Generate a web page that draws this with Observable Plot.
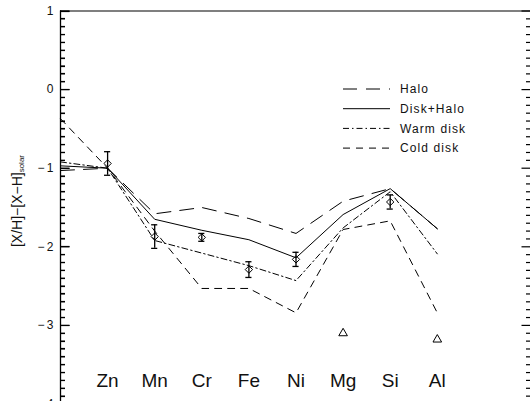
<!DOCTYPE html>
<html>
<head>
<meta charset="utf-8">
<script src="https://cdn.jsdelivr.net/npm/d3@7"></script>
<script src="https://cdn.jsdelivr.net/npm/@observablehq/plot@0.6"></script>
<style>
  html, body { margin: 0; padding: 0; background: #fff; }
  #chart { width: 530px; height: 401px; overflow: hidden; }
  svg { font-family: "Liberation Sans", Arial, sans-serif; }
</style>
</head>
<body>
<div id="chart"></div>
<script>
// ---- data ----
// position 0 is the left frame edge where the model curves begin
const positions = [0, 1, 2, 3, 4, 5, 6, 7, 8];
const elements = ["", "Zn", "Mn", "Cr", "Fe", "Ni", "Mg", "Si", "Al"];
const halo      = [-1.03, -1.00, -1.58, -1.50, -1.64, -1.83, -1.42, -1.26, -1.77];
const diskHalo  = [-0.97, -1.00, -1.65, -1.79, -1.91, -2.14, -1.59, -1.26, -1.77];
const warmDisk  = [-0.92, -1.00, -1.92, -2.08, -2.24, -2.43, -1.76, -1.30, -2.09];
const coldDisk  = [-0.37, -1.00, -1.80, -2.53, -2.53, -2.84, -1.78, -1.67, -2.84];

const seriesNames = ["Halo", "Disk+Halo", "Warm disk", "Cold disk"];
const seriesDash  = ["14,9", null, "6,3,1.5,3", "7,6"];

const obsPos    = [1, 2, 3, 4, 5, 7];
const obsValue  = [-0.94, -1.87, -1.88, -2.29, -2.16, -1.43];
const obsError  = [0.15, 0.15, 0.05, 0.10, 0.09, 0.09];

const limitPos   = [6, 8];
const limitValue = [-3.10, -3.18];

const majorTicks = [-4, -3, -2, -1, 0, 1];
const minorTicks = d3.range(-40, 11).map(d => d / 10).filter(d => !Number.isInteger(d));

// ---- tables ----
const seriesValues = [halo, diskHalo, warmDisk, coldDisk];
const curves = seriesNames.map((name, i) =>
  positions.map((p, j) => ({series: name, x: p, y: seriesValues[i][j]})));
const obs = obsPos.map((p, i) => ({x: p, y: obsValue[i], e: obsError[i]}));
const limits = limitPos.map((p, i) => ({x: p, y: limitValue[i]}));
const labels = positions.slice(1).map(p => ({x: p, name: elements[p]}));

const fmt = d => d < 0 ? "\u2212\u2009" + Math.abs(d) : String(d);
const noLabel = () => "";
const capHalf = 0.065;
const xLeft = 0, xRight = 10;

const marks = [
  // frame
  Plot.ruleY([1], {stroke: "#000", strokeWidth: 1.2}),
  Plot.ruleX([xLeft, xRight], {stroke: "#000", strokeWidth: 1.3}),
  // y axis: labels on the left, inward ticks on both sides
  Plot.axisY({ticks: majorTicks, tickSize: 0, tickPadding: 7, tickFormat: fmt,
    fontSize: 12, label: null, anchor: "left", fill: "#111"}),
  Plot.axisY({ticks: majorTicks, anchor: "left", tickSize: -9.5, tickFormat: noLabel, label: null, stroke: "#000", strokeWidth: 1.2}),
  Plot.axisY({ticks: minorTicks, anchor: "left", tickSize: -5, tickFormat: noLabel, label: null, stroke: "#000", strokeWidth: 1.2}),
  Plot.axisY({ticks: majorTicks, anchor: "right", tickSize: -9.5, tickFormat: noLabel, label: null, stroke: "#000", strokeWidth: 1.2}),
  Plot.axisY({ticks: minorTicks, anchor: "right", tickSize: -5, tickFormat: noLabel, label: null, stroke: "#000", strokeWidth: 1.2}),
  // model curves
  ...curves.map((c, i) => Plot.line(c, {x: "x", y: "y", stroke: "#000", strokeWidth: 1,
    strokeDasharray: seriesDash[i] ?? undefined})),
  // observations
  Plot.ruleX(obs, {x: "x", y1: d => d.y - d.e, y2: d => d.y + d.e, stroke: "#000", strokeWidth: 1.3}),
  Plot.ruleY(obs, {y: d => d.y - d.e, x1: d => d.x - capHalf, x2: d => d.x + capHalf, stroke: "#000", strokeWidth: 1.3}),
  Plot.ruleY(obs, {y: d => d.y + d.e, x1: d => d.x - capHalf, x2: d => d.x + capHalf, stroke: "#000", strokeWidth: 1.3}),
  Plot.dot(obs, {x: "x", y: "y", symbol: "diamond2", r: 3.3, stroke: "#000", fill: "none", strokeWidth: 1}),
  Plot.dot(limits, {x: "x", y: "y", symbol: "triangle", r: 3.2, stroke: "#000", fill: "none", strokeWidth: 1}),
  // element names
  Plot.text(labels, {x: "x", y: () => -3.71, text: "name", fontSize: 19, fill: "#111", textAnchor: "middle"})
];

const plot = Plot.plot({
  width: 530,
  height: 401,
  marginLeft: 60,
  marginTop: 10.5,
  marginRight: 0,
  marginBottom: 0,
  style: {fontFamily: "Liberation Sans, Arial, sans-serif", background: "#fff", overflow: "hidden"},
  x: {domain: [0, 10], range: [60, 531], axis: null},
  y: {domain: [-4, 1], range: [403.5, 10.5], axis: null},
  marks
});

const svg = d3.select(plot);
const ys = plot.scale("y");
const xs = plot.scale("x");

// extra inward ticks on the left edge, placed through Plot's own scales
const tg = svg.append("g").attr("stroke", "#000").attr("stroke-width", 1.2);
const x0 = xs.apply(xLeft);
[[majorTicks, 9.5], [minorTicks, 5]].forEach(([ticks, len]) => {
  ticks.forEach(t => {
    const y = Math.round(ys.apply(t)) + 0.5;
    tg.append("line").attr("x1", x0).attr("x2", x0 + len).attr("y1", y).attr("y2", y);
  });
});

// y-axis title with subscript
const yl = svg.append("text")
  .attr("transform", "translate(22,201) rotate(-90)")
  .attr("text-anchor", "middle")
  .attr("font-size", 14)
  .attr("fill", "#111");
yl.append("tspan").text("[X/H]\u2212[X\u2212H]");
yl.append("tspan").attr("font-size", 8).attr("dy", 2).text("solar");

// legend
const lg = svg.append("g").attr("font-size", 12).attr("fill", "#111").attr("text-anchor", "start");
seriesNames.forEach((name, i) => {
  const y = 89 + i * 19.7;
  lg.append("line").attr("x1", 343).attr("x2", 390).attr("y1", y).attr("y2", y)
    .attr("stroke", "#000").attr("stroke-width", 1)
    .attr("stroke-dasharray", seriesDash[i]);
  lg.append("text").attr("x", 400).attr("y", y + 4.3).attr("text-anchor", "start")
    .attr("letter-spacing", 1.1).text(name);
});

document.getElementById("chart").appendChild(plot);
</script>
</body>
</html>
